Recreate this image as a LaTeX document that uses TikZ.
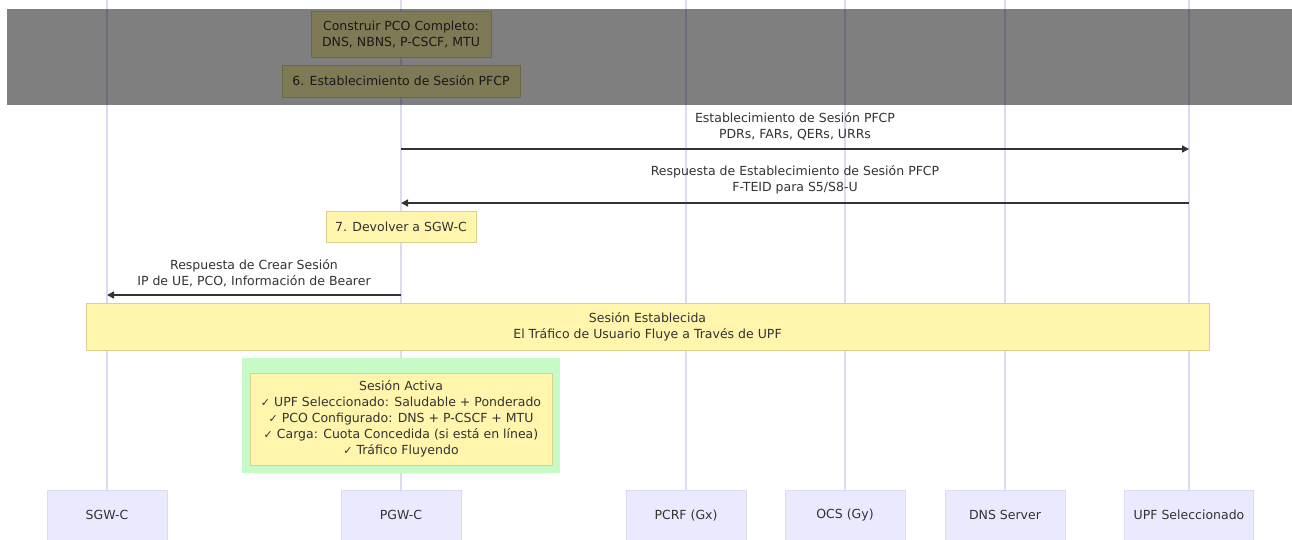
\documentclass[tikz,border=0pt]{standalone}
\usepackage{fontspec}
\setmainfont{DejaVu Sans}
\usetikzlibrary{arrows.meta}
\definecolor{notefill}{HTML}{FFF5AD}
\definecolor{noteline}{HTML}{D9D28A}
\definecolor{actorfill}{HTML}{EAEAFF}
\definecolor{actorline}{HTML}{DCDCF4}
\definecolor{lifecol}{HTML}{DEDAF2}
\definecolor{msgcol}{HTML}{333333}
\definecolor{activegreen}{HTML}{C6FAC6}
\newcommand{\ck}{{\fontsize{11}{16}\selectfont ✓}}
\tikzset{
  txt/.style={font=\fontsize{12.5}{16}\selectfont, text=msgcol, align=center},
  actorbox/.style={draw=actorline, fill=actorfill, minimum width=120pt, minimum height=50pt, txt, anchor=north},
  notebox/.style={draw=noteline, fill=notefill, txt, inner sep=0pt},
  life/.style={draw=lifecol, line width=1.2pt},
  msg/.style={draw=msgcol, line width=1.4pt, -{Triangle[length=7pt,width=7pt]}},
  msglabel/.style={txt, inner sep=0pt}
}
\begin{document}
\begin{tikzpicture}[x=1pt,y=-1pt]
\useasboundingbox (0,0) rectangle (1292,539);
\clip (0,0) rectangle (1292,539);
\fill[white] (0,0) rectangle (1292,539);
% actors
\node[actorbox] (sgw) at (107,490) {SGW-C};
\node[actorbox] (pgw) at (401,490) {PGW-C};
\node[actorbox] (pcrf) at (686,490) {PCRF (Gx)};
\node[actorbox] (ocs) at (845,490) {OCS (Gy)};
\node[actorbox] (dns) at (1005,490) {DNS Server};
\node[actorbox, minimum width=129pt] (upf) at (1189,490) {UPF Seleccionado};
% lifeline tops
\coordinate (sgwT) at (107,0);
\coordinate (pgwT) at (401,0);
\coordinate (pcrfT) at (686,0);
\coordinate (ocsT) at (845,0);
\coordinate (dnsT) at (1005,0);
\coordinate (upfT) at (1189,0);
\draw[life] (sgwT) -- (sgw.north);
\draw[life] (pgwT) -- (pgw.north);
\draw[life] (pcrfT) -- (pcrf.north);
\draw[life] (ocsT) -- (ocs.north);
\draw[life] (dnsT) -- (dns.north);
\draw[life] (upfT) -- (upf.north);
% notes top
\node[notebox, minimum width=180pt, minimum height=46pt] (n1) at (401,34) {Construir PCO Completo:\\DNS, NBNS, P-CSCF, MTU};
\node[notebox, minimum width=238pt, minimum height=32pt] (n2) at (401,81) {6. Establecimiento de Sesión PFCP};
% message 1
\coordinate (m1a) at (401,149);
\coordinate (m1b) at (1189,149);
\draw[msg] (m1a) -- (m1b);
\node[msglabel] (l1) at (795,126) {Establecimiento de Sesión PFCP\\PDRs, FARs, QERs, URRs};
% message 2
\coordinate (m2a) at (1189,203);
\coordinate (m2b) at (401,203);
\draw[msg] (m2a) -- (m2b);
\node[msglabel] (l2) at (795,180) {Respuesta de Establecimiento de Sesión PFCP\\F-TEID para S5/S8-U};
% note 7
\node[notebox, minimum width=150pt, minimum height=31pt] (n3) at (401,226.5) {7. Devolver a SGW-C};
% message 3
\coordinate (m3a) at (401,295);
\coordinate (m3b) at (107,295);
\draw[msg] (m3a) -- (m3b);
\node[msglabel] (l3) at (254,273) {Respuesta de Crear Sesión\\IP de UE, PCO, Información de Bearer};
% big note
\node[notebox, minimum width=1123pt, minimum height=47pt] (n4) at (647.5,326.5) {Sesión Establecida\\El Tráfico de Usuario Fluye a Través de UPF};
% active region
\fill[activegreen] (242,358) rectangle (560,473);
\node[notebox, minimum width=302pt, minimum height=92pt] (n5) at (401,419) {Sesión Activa\\\ck\ UPF Seleccionado: Saludable + Ponderado\\\ck\ PCO Configurado: DNS + P-CSCF + MTU\\\ck\ Carga: Cuota Concedida (si está en línea)\\\ck\ Tráfico Fluyendo};
% overlay
\fill[black, opacity=0.5] (7,9) rectangle (1292,105);
\end{tikzpicture}
\end{document}
